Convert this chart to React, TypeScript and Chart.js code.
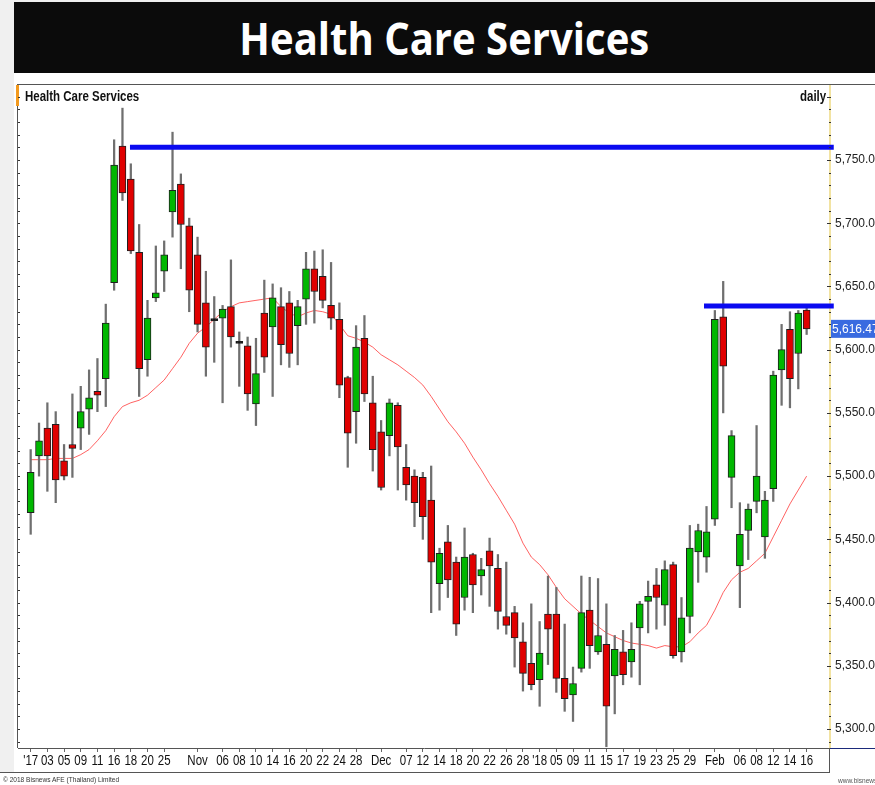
import React, { useEffect, useRef } from 'react';
import { Chart, registerables } from 'chart.js';

Chart.register(...registerables);

// ---- Data (daily OHLC, Health Care Services index, 29 Sep 2017 – 16 Feb 2018) ----
const opens = [
  5471, 5516, 5538, 5541, 5512, 5525, 5538, 5553, 5567, 5577,
  5653, 5761, 5735, 5677, 5592, 5641, 5662, 5709, 5731, 5698,
  5675, 5637, 5623, 5625, 5634, 5605, 5603, 5557, 5629, 5618,
  5634, 5637, 5619, 5640, 5664, 5658, 5635, 5624, 5578, 5551,
  5609, 5558, 5535, 5532, 5556, 5507, 5500, 5499, 5481, 5415,
  5448, 5432, 5404, 5438, 5421, 5441, 5427, 5389, 5392, 5369,
  5352, 5339, 5391, 5391, 5340, 5327, 5348, 5394, 5361, 5367,
  5342, 5361, 5353, 5380, 5401, 5414, 5398, 5430, 5361, 5389,
  5440, 5436, 5466, 5626, 5499, 5429, 5457, 5480, 5452, 5490,
  5584, 5616, 5597, 5631.4,
];
const highs = [
  5521, 5542, 5558, 5551, 5525, 5565, 5571, 5584, 5593, 5636,
  5766, 5791, 5747, 5699, 5639, 5682, 5686, 5772, 5739, 5704,
  5689, 5662, 5642, 5635, 5671, 5614, 5610, 5609, 5655, 5652,
  5649, 5646, 5639, 5677, 5678, 5679, 5669, 5637, 5579, 5619,
  5627, 5579, 5544, 5561, 5558, 5525, 5505, 5503, 5508, 5443,
  5461, 5436, 5459, 5439, 5435, 5451, 5438, 5432, 5397, 5384,
  5399, 5385, 5421, 5412, 5383, 5349, 5421, 5420, 5419, 5399,
  5374, 5378, 5384, 5401, 5417, 5427, 5433, 5432, 5404, 5461,
  5462, 5476, 5631, 5654, 5536, 5479, 5478, 5540, 5488, 5583,
  5620, 5630, 5631, 5634,
];
const lows = [
  5454, 5500, 5488, 5479, 5497, 5499, 5521, 5533, 5551, 5555,
  5647, 5718, 5676, 5563, 5579, 5638, 5646, 5689, 5664, 5630,
  5614, 5579, 5590, 5558, 5602, 5571, 5552, 5540, 5582, 5563,
  5588, 5586, 5588, 5620, 5621, 5633, 5616, 5562, 5507, 5526,
  5559, 5504, 5489, 5516, 5489, 5481, 5460, 5450, 5392, 5394,
  5404, 5374, 5394, 5392, 5406, 5397, 5379, 5375, 5349, 5330,
  5331, 5318, 5351, 5329, 5314, 5306, 5345, 5348, 5359, 5286,
  5312, 5335, 5341, 5335, 5376, 5379, 5382, 5356, 5353, 5376,
  5416, 5424, 5461, 5550, 5475, 5396, 5434, 5471, 5435, 5480,
  5556, 5554, 5569, 5612,
];
const closes = [
  5503, 5528, 5516, 5497, 5500, 5522, 5551, 5562, 5564, 5621,
  5746, 5724, 5678, 5585, 5625, 5645, 5675, 5726, 5699, 5647,
  5620, 5602, 5623, 5632, 5610, 5605, 5565, 5581, 5594, 5641,
  5604, 5597, 5634, 5664, 5646, 5639, 5625, 5572, 5534, 5602,
  5565, 5521, 5491, 5558, 5523, 5493, 5479, 5468, 5432, 5439,
  5418, 5383, 5436, 5414, 5426, 5429, 5393, 5382, 5372, 5344,
  5335, 5360, 5379, 5340, 5324, 5336, 5392, 5366, 5374, 5318,
  5363, 5343, 5363, 5399, 5405, 5404, 5426, 5358, 5388, 5443,
  5457, 5456, 5624, 5587, 5532, 5454, 5474, 5500, 5481, 5580,
  5600, 5577, 5629, 5616.47,
];
// moving average line (red)
const movingAvg = [
  5513, 5513, 5513, 5514, 5514, 5514, 5517, 5521, 5528, 5536,
  5547, 5555, 5558, 5560, 5564, 5570, 5576, 5585, 5594, 5605,
  5613, 5618, 5624, 5630, 5634, 5637, 5638, 5639, 5640, 5641,
  5634, 5629, 5626, 5629, 5631, 5630, 5628, 5620, 5611, 5609,
  5606, 5602, 5596, 5592, 5588, 5583, 5578, 5572, 5563, 5553,
  5543, 5535, 5526, 5515, 5505, 5494, 5484, 5473, 5462, 5447,
  5436, 5430, 5422, 5412, 5403, 5397, 5391, 5386, 5381, 5376,
  5373, 5370, 5368, 5367, 5366, 5364, 5366, 5365, 5365, 5369,
  5376, 5382, 5394, 5408, 5418, 5424, 5427, 5433, 5439, 5452,
  5465, 5478, 5489, 5500,
];
// x-axis tick labels (trading-day index -> text)
const tickIndex = [
  0, 2, 4, 6, 8, 10, 12, 14, 16, 20, 23, 25, 27, 29, 31, 33, 35, 37, 39,
  42, 45, 47, 49, 51, 53, 55, 57, 59, 61, 63, 65, 67, 69, 71, 73, 75, 77, 79,
  82, 85, 87, 89, 91, 93,
];
const tickText = [
  "'17", '03', '05', '09', '11', '16', '18', '20', '25', 'Nov', '06', '08', '10', '14', '16', '20', '22', '24', '28',
  'Dec', '07', '12', '14', '18', '20', '22', '26', '28', "'18", '05', '09', '11', '15', '17', '19', '23', '25', '29',
  'Feb', '06', '08', '12', '14', '16',
];
const yTicks = [5300, 5350, 5400, 5450, 5500, 5550, 5600, 5650, 5700, 5750];
// horizontal resistance lines: [start index, level]
const resistanceStarts = [11.9, 80.7];
const resistanceLevels = [5760, 5634.5];

const X_MIN = -1.52;
const X_MAX = 95.8;
const Y_MIN = 5285;
const Y_MAX = 5809.3;

const fmt = (v: number) =>
  v.toLocaleString('en-US', { minimumFractionDigits: 2, maximumFractionDigits: 2 });

const SANS = "'Liberation Sans', Arial, sans-serif";
const NARROW_SCALE = 0.82;

export default function App() {
  const ref = useRef<HTMLCanvasElement>(null);

  useEffect(() => {
    const canvas = ref.current;
    if (!canvas) return;
    const idx = closes.map((_, i) => i);
    const bodyColors = idx.map((i) =>
      closes[i] > opens[i] ? '#00b700' : closes[i] < opens[i] ? '#e00000' : '#000000'
    );

    const framePlugin = {
      id: 'frame',
      afterDraw(chart: any) {
        const { ctx, chartArea, scales } = chart;
        const ys = scales.y;
        const xs = scales.x;
        const W = chart.width;
        ctx.save();
        // top frame line
        ctx.strokeStyle = '#555';
        ctx.lineWidth = 1;
        ctx.beginPath();
        ctx.moveTo(17, 84.5);
        ctx.lineTo(W, 84.5);
        ctx.stroke();
        // left frame line
        ctx.beginPath();
        ctx.moveTo(17.5, 84);
        ctx.lineTo(17.5, chartArea.bottom);
        ctx.stroke();
        // orange marker
        ctx.fillStyle = '#f39a1e';
        ctx.fillRect(16, 85, 3, 21);
        // minor ticks on both sides
        ctx.fillStyle = '#333';
        for (let v = 5290; v <= 5800; v += 10) {
          const py = Math.round(ys.getPixelForValue(v));
          const major = v % 50 === 0;
          ctx.fillRect(18, py, 2, 1);
          ctx.fillRect(chartArea.right - (major ? 3 : 1), py, major ? 4 : 2, 1);
        }
        // x-axis line extension under price axis
        ctx.strokeStyle = '#1b2a7a';
        ctx.beginPath();
        ctx.moveTo(chartArea.right, chartArea.bottom + 0.5);
        ctx.lineTo(W, chartArea.bottom + 0.5);
        ctx.stroke();
        // bottom border of date strip and separator
        ctx.strokeStyle = '#555';
        ctx.beginPath();
        ctx.moveTo(0, 772.5);
        ctx.lineTo(chartArea.right, 772.5);
        ctx.moveTo(chartArea.right - 0.5, chartArea.bottom);
        ctx.lineTo(chartArea.right - 0.5, 773);
        ctx.stroke();
        // date labels (narrow face emulated by horizontal scaling)
        ctx.fillStyle = '#111';
        ctx.font = `14px ${SANS}`;
        ctx.textAlign = 'center';
        ctx.textBaseline = 'middle';
        tickIndex.forEach((v, k) => {
          const px = xs.getPixelForValue(v);
          ctx.save();
          ctx.translate(px, chartArea.bottom + 13.5);
          ctx.scale(NARROW_SCALE, 1);
          ctx.fillText(tickText[k], 0, 0);
          ctx.restore();
        });
        // last price label
        const last = closes[closes.length - 1];
        const py = ys.getPixelForValue(last);
        ctx.fillStyle = '#3a6be0';
        ctx.fillRect(chartArea.right + 1, py - 9, W - chartArea.right, 18);
        ctx.fillStyle = '#ffffff';
        ctx.font = `12px ${SANS}`;
        ctx.textBaseline = 'middle';
        ctx.textAlign = 'left';
        ctx.fillText(fmt(last), chartArea.right + 2, py + 0.5);
        ctx.restore();
      },
    };

    const chart = new Chart(canvas, {
      type: 'bar',
      data: {
        datasets: [
          {
            type: 'line',
            label: 'r1',
            data: [
              { x: resistanceStarts[0], y: resistanceLevels[0] },
              { x: X_MAX + 0.45, y: resistanceLevels[0] },
            ],
            borderColor: '#0a0af0',
            borderWidth: 5,
            pointRadius: 0,
            clip: false as any,
            order: -2,
          } as any,
          {
            type: 'line',
            label: 'r2',
            data: [
              { x: resistanceStarts[1], y: resistanceLevels[1] },
              { x: X_MAX + 0.45, y: resistanceLevels[1] },
            ],
            borderColor: '#0a0af0',
            borderWidth: 5,
            pointRadius: 0,
            clip: false as any,
            order: -2,
          } as any,
          {
            type: 'bar',
            label: 'body',
            data: idx.map((i) => ({ x: i, y: [opens[i], closes[i]] })),
            backgroundColor: bodyColors,
            borderColor: '#1e1e1e',
            borderWidth: 1,
            borderSkipped: false,
            barThickness: 7,
            minBarLength: 2,
            grouped: false,
            order: 0,
          } as any,
          {
            type: 'bar',
            label: 'wick',
            data: idx.map((i) => ({ x: i, y: [lows[i], highs[i]] })),
            backgroundColor: '#6f6f6f',
            borderWidth: 0,
            barThickness: 1.6,
            grouped: false,
            order: 2,
          } as any,
          {
            type: 'line',
            label: 'ma',
            data: idx.map((i) => ({ x: i, y: movingAvg[i] })),
            borderColor: 'rgba(255,45,45,0.75)',
            borderWidth: 1,
            pointRadius: 0,
            tension: 0,
            order: 3,
          } as any,
        ],
      },
      plugins: [framePlugin],
      options: {
        animation: false,
        responsive: false,
        maintainAspectRatio: false,
        devicePixelRatio: 1,
        layout: { padding: { left: 18, top: 85, right: 0, bottom: 0 } },
        plugins: { legend: { display: false }, tooltip: { enabled: false }, title: { display: false } },
        scales: {
          x: {
            type: 'linear',
            min: X_MIN,
            max: X_MAX,
            offset: false,
            afterBuildTicks: (s: any) => {
              s.ticks = tickIndex.map((v) => ({ value: v }));
            },
            afterFit: (s: any) => {
              s.height = 37;
            },
            grid: {
              display: true,
              drawOnChartArea: false,
              drawTicks: true,
              tickLength: 4,
              color: '#666',
              offset: false,
            },
            border: { display: true, color: '#555', width: 1 },
            ticks: {
              display: false,
              autoSkip: false,
              maxRotation: 0,
              callback: (_v: any, i: number) => tickText[i] ?? '',
            },
          },
          y: {
            type: 'linear',
            position: 'right',
            min: Y_MIN,
            max: Y_MAX,
            afterBuildTicks: (s: any) => {
              s.ticks = yTicks.map((v) => ({ value: v }));
            },
            afterFit: (s: any) => {
              s.width = 45;
            },
            grid: { display: false, drawTicks: false },
            border: { display: true, color: '#f2e3a2', width: 2 },
            ticks: {
              padding: 5,
              color: '#222',
              font: { family: SANS, size: 12 },
              callback: (v: any) => fmt(Number(v)),
            },
          },
        },
      } as any,
    });
    return () => chart.destroy();
  }, []);

  const narrowText: React.CSSProperties = {
    position: 'absolute',
    fontFamily: SANS,
    whiteSpace: 'nowrap',
    transform: `scaleX(${NARROW_SCALE})`,
    transformOrigin: 'left top',
  };

  return (
    <div
      style={{
        position: 'absolute',
        left: 0,
        top: 0,
        width: 875,
        height: 785,
        background: '#ffffff',
        overflow: 'hidden',
      }}
    >
      <div style={{ position: 'absolute', left: 0, top: 0, width: 14, height: 773, background: '#f0f0f0' }} />
      <div style={{ position: 'absolute', left: 0, top: 0, width: 875, height: 2, background: '#f0f0f0' }} />
      <div
        style={{
          position: 'absolute',
          left: 14,
          top: 2,
          width: 861,
          height: 71,
          background: '#0b0b0b',
          color: '#ffffff',
          display: 'flex',
          alignItems: 'center',
          justifyContent: 'center',
          fontFamily: "'Open Sans', 'Noto Sans', sans-serif",
          fontWeight: 700,
          fontSize: 45,
        }}
      >
        <span style={{ display: 'inline-block', transform: 'scaleX(0.89)', whiteSpace: 'nowrap' }}>
          Health Care Services
        </span>
      </div>
      <canvas ref={ref} width={875} height={785} style={{ position: 'absolute', left: 0, top: 0 }} />
      <div style={{ ...narrowText, left: 25, top: 88, fontWeight: 700, fontSize: 14, color: '#111' }}>
        Health Care Services
      </div>
      <div style={{ ...narrowText, left: 800, top: 88, fontWeight: 700, fontSize: 14, color: '#111' }}>
        daily
      </div>
      <div style={{ ...narrowText, left: 3, top: 775, fontSize: 8, color: '#333' }}>
        © 2018 Bisnews AFE (Thailand) Limited
      </div>
      <div style={{ ...narrowText, left: 838, top: 776, fontSize: 8, color: '#555' }}>
        www.bisnews.co
      </div>
    </div>
  );
}
